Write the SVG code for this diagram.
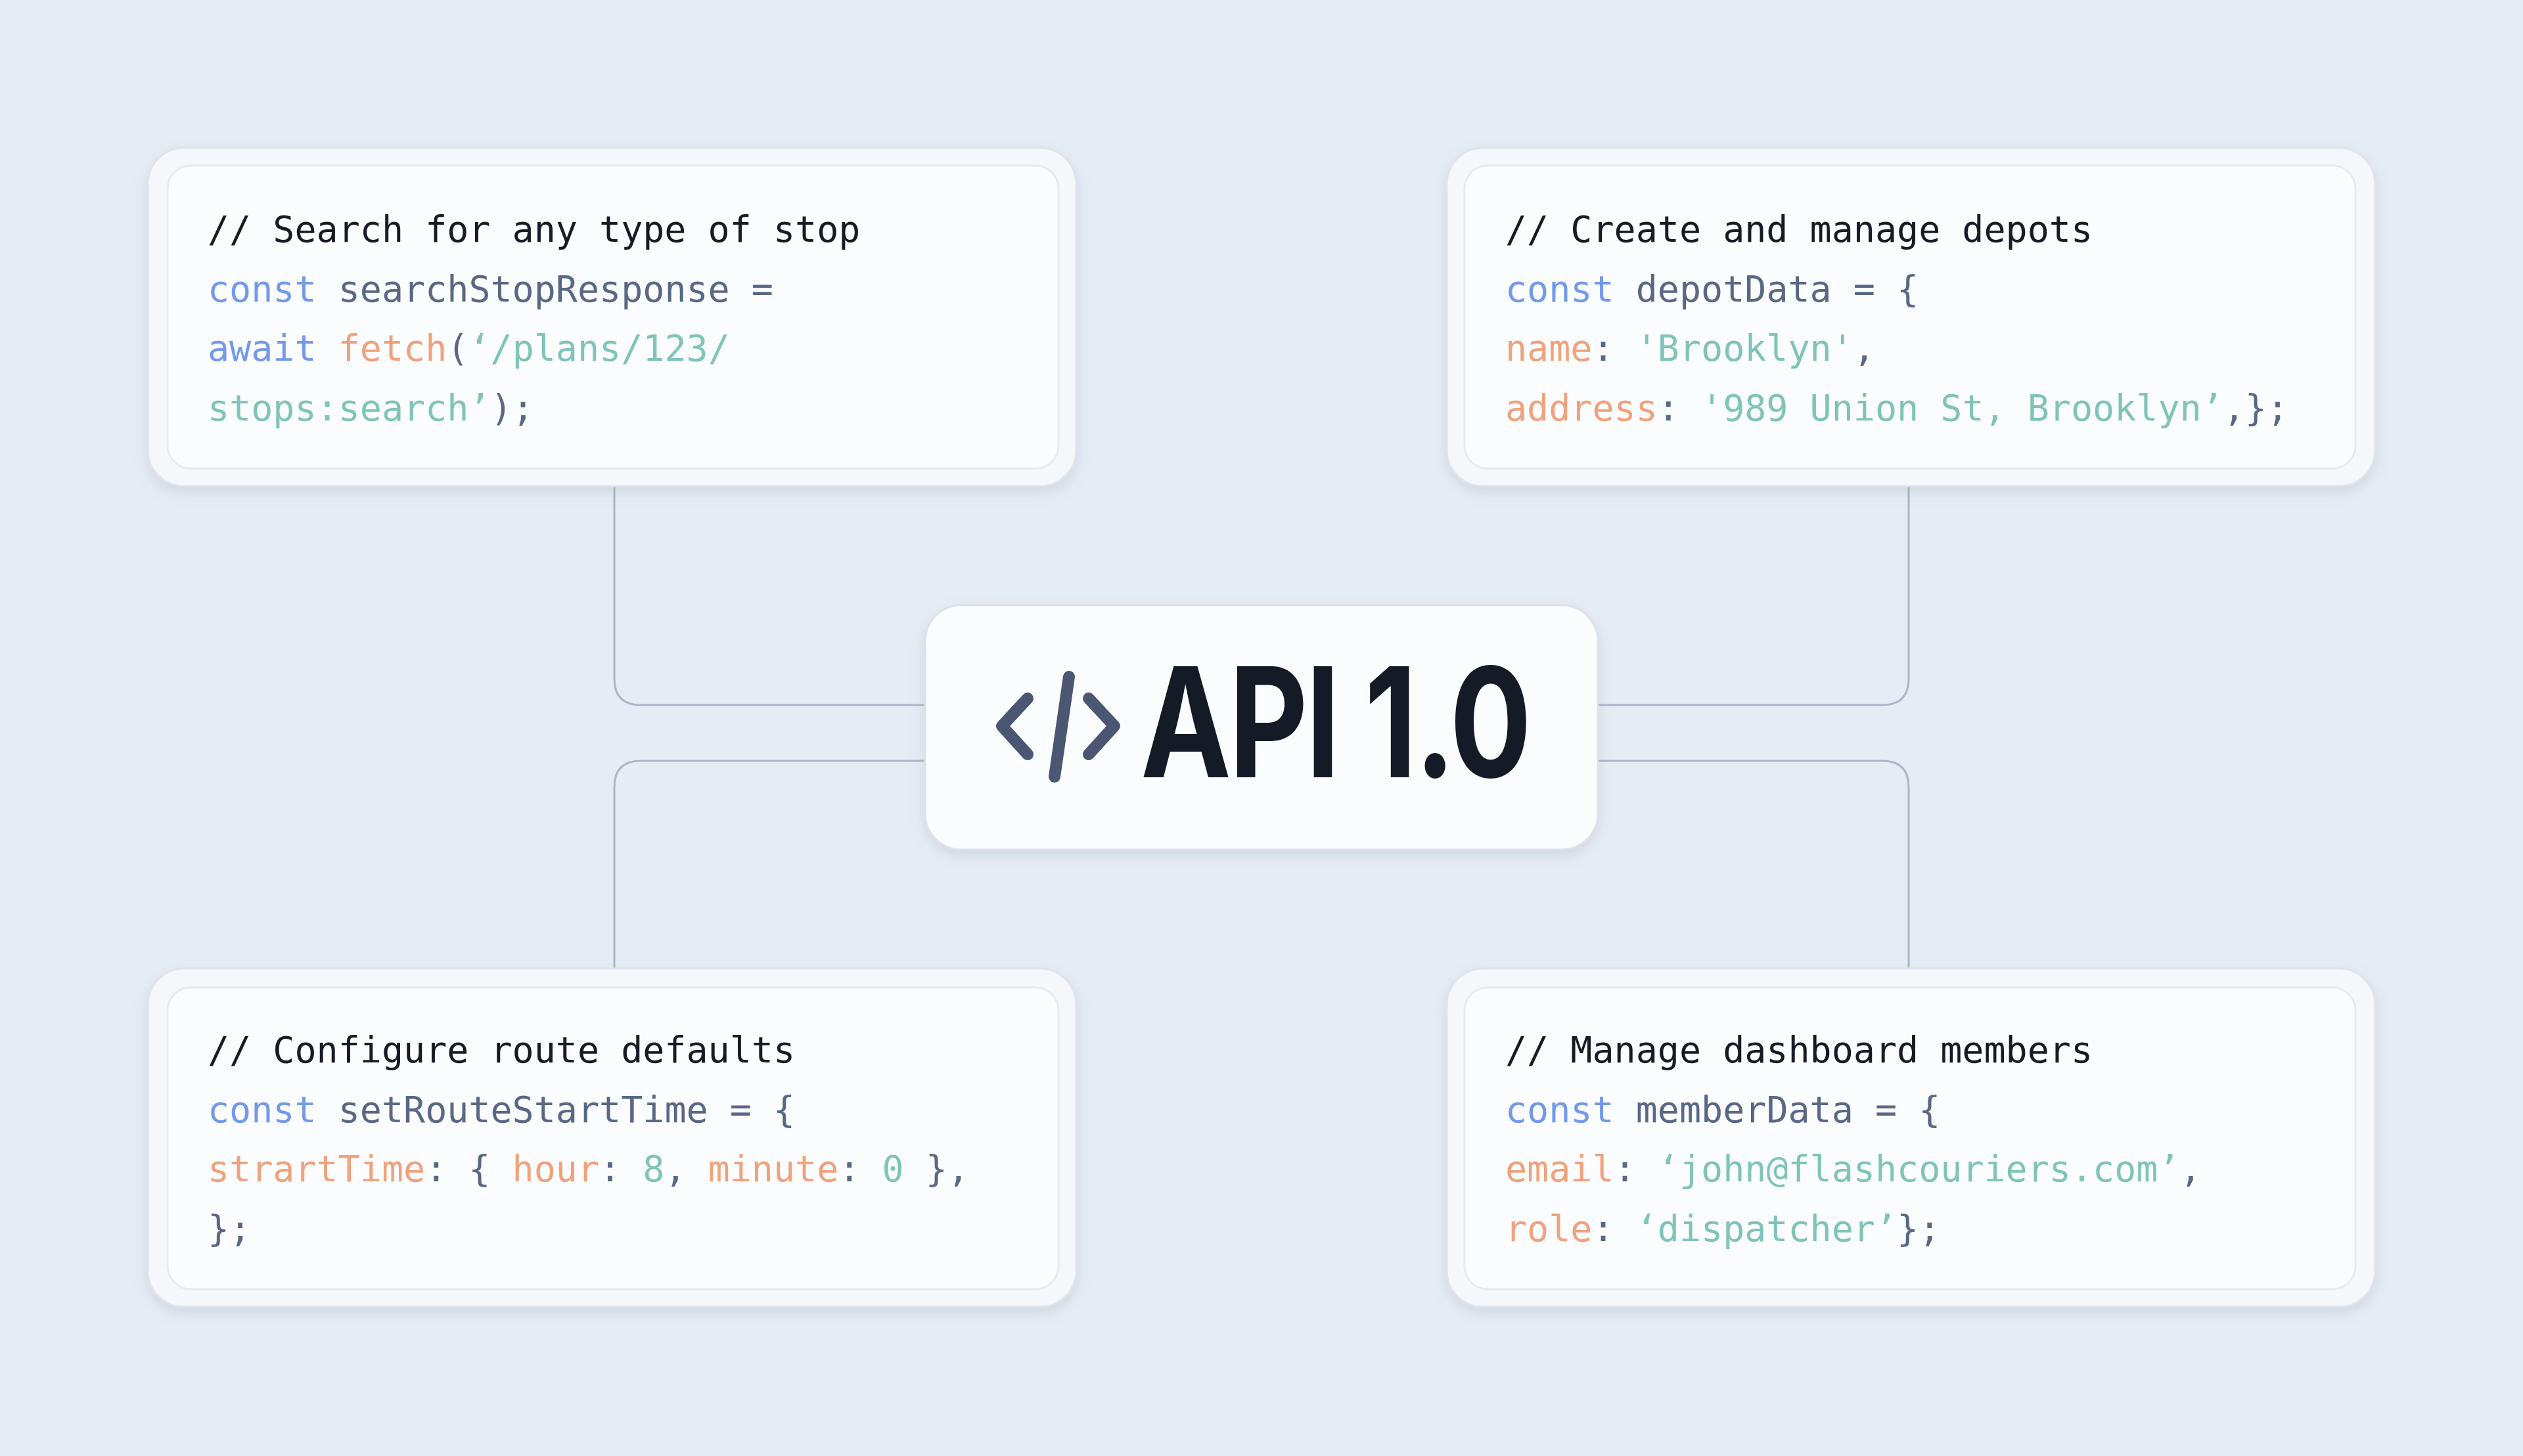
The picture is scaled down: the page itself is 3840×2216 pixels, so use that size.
<svg xmlns="http://www.w3.org/2000/svg" width="3840" height="2216" viewBox="0 0 3840 2216">
<defs>
<style>
.bg{fill:#e6ecf3}
.outer{fill:#f5f7fa;stroke:#dfe3ea;stroke-width:3}
.inner{fill:#fbfcfe;stroke:#e7eaef;stroke-width:3}
.code{font-family:"DejaVu Sans Mono","Liberation Mono",monospace;font-size:55px}
.cm{fill:#161b26}.kw{fill:#7399ea}.id{fill:#5a6785}.fn{fill:#f0a27d}.st{fill:#7fc4b8}
.conn{fill:none;stroke:#aab5c7;stroke-width:3}
.glow{fill:none;stroke-width:4}
</style>
<filter id="sh" x="-10%" y="-10%" width="120%" height="130%"><feDropShadow dx="0" dy="8" stdDeviation="10" flood-color="#8a97ad" flood-opacity="0.25"/></filter>
<linearGradient id="gl" x1="0" x2="1" y1="0" y2="0"><stop offset="0" stop-color="#2f66e0" stop-opacity="0"/><stop offset="0.5" stop-color="#2f66e0"/><stop offset="1" stop-color="#2f66e0" stop-opacity="0"/></linearGradient>
</defs>
<rect class="bg" width="3840" height="2216"/>
<g id="connectors">
<path class="conn" d="M935 740 V1033 Q935 1073 975 1073 H1408"/>
<path class="conn" d="M1408 1158 H975 Q935 1158 935 1198 V1474"/>
<path class="conn" d="M2905 740 V1033 Q2905 1073 2865 1073 H2432"/>
<path class="conn" d="M2432 1158 H2865 Q2905 1158 2905 1198 V1474"/>
<line class="glow" x1="1080" y1="1073" x2="1380" y2="1073" stroke="url(#gl)"/>
<line class="glow" x1="1000" y1="1158" x2="1260" y2="1158" stroke="url(#gl)"/>
<line class="glow" x1="2580" y1="1073" x2="2840" y2="1073" stroke="url(#gl)"/>
<line class="glow" x1="2480" y1="1158" x2="2780" y2="1158" stroke="url(#gl)"/>
</g>
<g id="card-search">
<rect class="outer" x="225" y="225" width="1413" height="515" rx="55" filter="url(#sh)"/>
<rect class="inner" x="255" y="252" width="1356" height="461" rx="35"/>
<text class="code" x="316" y="368"><tspan class="cm">// Search for any type of stop</tspan></text>
<text class="code" x="316" y="459"><tspan class="kw">const</tspan> <tspan class="id">searchStopResponse =</tspan></text>
<text class="code" x="316" y="549"><tspan class="kw">await</tspan> <tspan class="fn">fetch</tspan><tspan class="id">(</tspan><tspan class="st">‘/plans/123/</tspan></text>
<text class="code" x="316" y="640"><tspan class="st">stops:search’</tspan><tspan class="id">);</tspan></text>
</g>
<g id="card-depots">
<rect class="outer" x="2202" y="225" width="1413" height="515" rx="55" filter="url(#sh)"/>
<rect class="inner" x="2229" y="252" width="1356" height="461" rx="35"/>
<text class="code" x="2291" y="368"><tspan class="cm">// Create and manage depots</tspan></text>
<text class="code" x="2291" y="459"><tspan class="kw">const</tspan> <tspan class="id">depotData = {</tspan></text>
<text class="code" x="2291" y="549"><tspan class="fn">name</tspan><tspan class="id">: </tspan><tspan class="st">'Brooklyn'</tspan><tspan class="id">,</tspan></text>
<text class="code" x="2291" y="640"><tspan class="fn">address</tspan><tspan class="id">: </tspan><tspan class="st">'989 Union St, Brooklyn’</tspan><tspan class="id">,};</tspan></text>
</g>
<g id="card-route">
<rect class="outer" x="225" y="1474" width="1413" height="515" rx="55" filter="url(#sh)"/>
<rect class="inner" x="255" y="1503" width="1356" height="459" rx="35"/>
<text class="code" x="316" y="1617"><tspan class="cm">// Configure route defaults</tspan></text>
<text class="code" x="316" y="1708"><tspan class="kw">const</tspan> <tspan class="id">setRouteStartTime = {</tspan></text>
<text class="code" x="316" y="1798"><tspan class="fn">strartTime</tspan><tspan class="id">: { </tspan><tspan class="fn">hour</tspan><tspan class="id">: </tspan><tspan class="st">8</tspan><tspan class="id">, </tspan><tspan class="fn">minute</tspan><tspan class="id">: </tspan><tspan class="st">0</tspan><tspan class="id"> },</tspan></text>
<text class="code" x="316" y="1889"><tspan class="id">};</tspan></text>
</g>
<g id="card-members">
<rect class="outer" x="2202" y="1474" width="1413" height="515" rx="55" filter="url(#sh)"/>
<rect class="inner" x="2229" y="1503" width="1356" height="459" rx="35"/>
<text class="code" x="2291" y="1617"><tspan class="cm">// Manage dashboard members</tspan></text>
<text class="code" x="2291" y="1708"><tspan class="kw">const</tspan> <tspan class="id">memberData = {</tspan></text>
<text class="code" x="2291" y="1798"><tspan class="fn">email</tspan><tspan class="id">: </tspan><tspan class="st">‘john@flashcouriers.com’</tspan><tspan class="id">,</tspan></text>
<text class="code" x="2291" y="1889"><tspan class="fn">role</tspan><tspan class="id">: </tspan><tspan class="st">‘dispatcher’</tspan><tspan class="id">};</tspan></text>
</g>
<g id="api">
<rect x="1408" y="921" width="1024" height="372" rx="55" fill="#fbfcfe" stroke="#dde2ea" stroke-width="3" filter="url(#sh)"/>
<g fill="none" stroke="#4a5672" stroke-width="18" stroke-linecap="round" stroke-linejoin="round">
<polyline points="1564,1063 1525,1105 1564,1148"/>
<line x1="1627" y1="1030" x2="1605" y2="1182"/>
<polyline points="1657,1063 1696,1105 1657,1148"/>
</g>
<text x="1736" y="1183" font-family="Inter,'Liberation Sans',sans-serif" font-weight="700" font-size="232" fill="#141a26" textLength="592" lengthAdjust="spacingAndGlyphs" letter-spacing="-4">API 1.0</text>
</g>
</svg>
